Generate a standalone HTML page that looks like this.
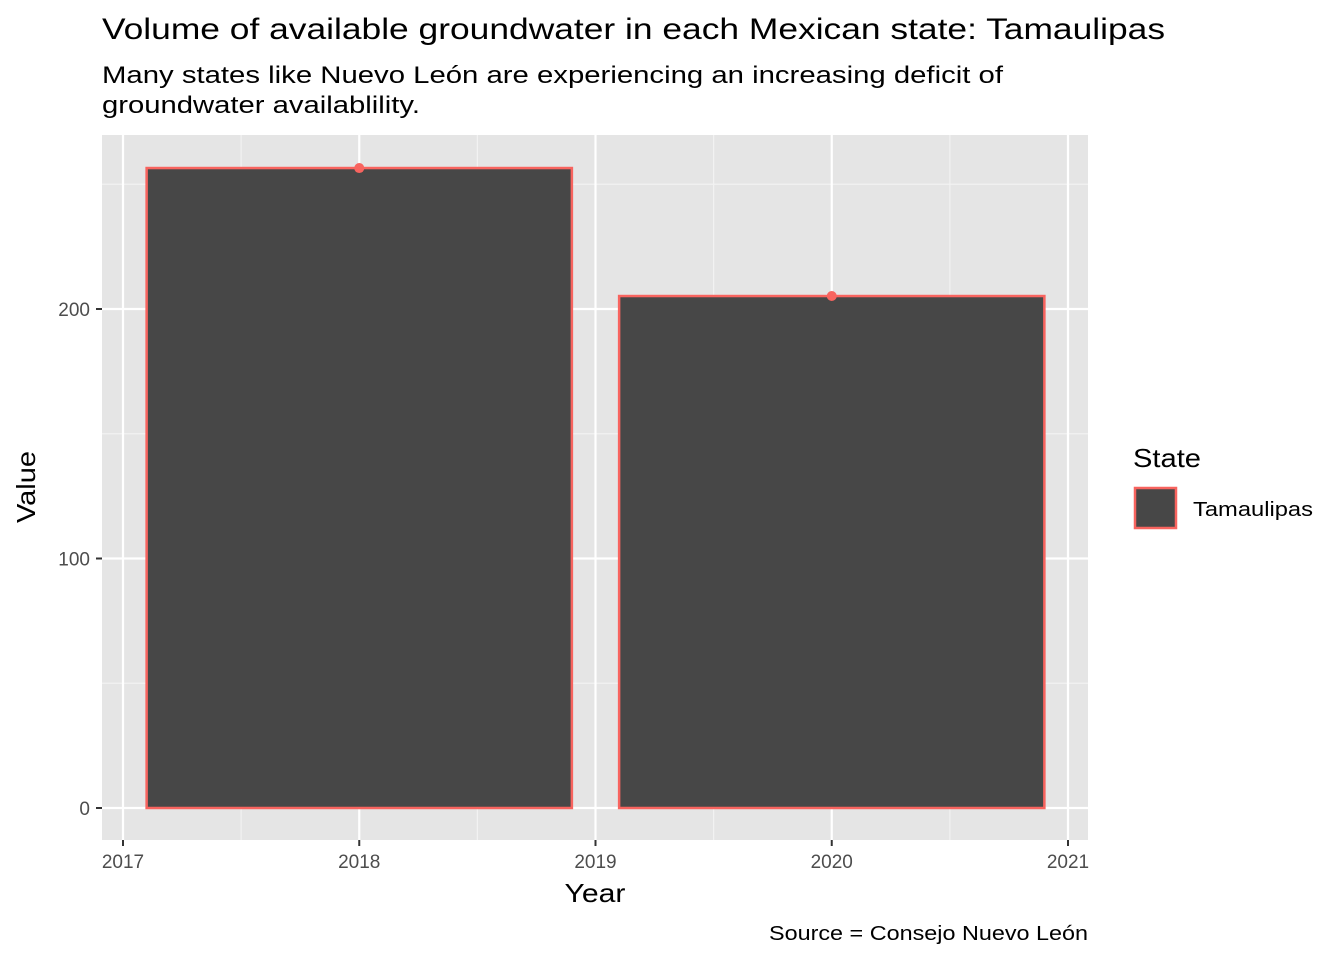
<!DOCTYPE html>
<html><head><meta charset="utf-8"><style>
body{margin:0;background:#fff;font-family:"Liberation Sans",Arial,sans-serif;}
svg text{font-family:"Liberation Sans",Arial,sans-serif;}
</style></head><body>
<svg id="chart" width="1344" height="960" xmlns="http://www.w3.org/2000/svg">
<text x="102" y="39" font-size="30" textLength="1063" lengthAdjust="spacingAndGlyphs" fill="#000">Volume of available groundwater in each Mexican state: Tamaulipas</text>
<text x="102" y="83" font-size="24" textLength="901" lengthAdjust="spacingAndGlyphs" fill="#000">Many states like Nuevo León are experiencing an increasing deficit of</text>
<text x="102" y="113" font-size="24" textLength="318" lengthAdjust="spacingAndGlyphs" fill="#000">groundwater availablility.</text>
<rect x="102" y="135" width="986" height="705" fill="#e5e5e5"/>
<g id="grid"></g>
<g id="bars"></g>
<g id="axes"></g>
<text x="595" y="902" font-size="26" textLength="61" lengthAdjust="spacingAndGlyphs" text-anchor="middle">Year</text>
<text transform="translate(35,487) rotate(-90)" font-size="26" textLength="72" lengthAdjust="spacingAndGlyphs" text-anchor="middle">Value</text>
<text x="1088" y="940" font-size="20" textLength="319" lengthAdjust="spacingAndGlyphs" text-anchor="end">Source = Consejo Nuevo León</text>
<text x="1133" y="467" font-size="26" textLength="68" lengthAdjust="spacingAndGlyphs">State</text>
<rect x="1135" y="488" width="41" height="40" fill="#474747" stroke="#f8645f" stroke-width="2.5"/>
<text x="1193" y="516" font-size="20" textLength="120" lengthAdjust="spacingAndGlyphs">Tamaulipas</text>
</svg>
<script>
const years=[2018,2020];
const values=[256.5,205.2];
const xTicks=[2017,2018,2019,2020,2021];
const yTicks=[0,100,200];
const NS="http://www.w3.org/2000/svg";
const xs=v=>123+(v-2017)*236.25;
const ys=v=>808-v*2.495;
function mk(tag,attrs,parent){const e=document.createElementNS(NS,tag);for(const k in attrs)e.setAttribute(k,attrs[k]);document.getElementById(parent).appendChild(e);return e;}
for(let i=0;i<xTicks.length-1;i++){const x=xs((xTicks[i]+xTicks[i+1])/2);const l=mk('line',{x1:x,x2:x,y1:135,y2:840,stroke:'#f2f2f2','stroke-width':1.2},'grid');

}
[50,150,250].forEach(v=>{const l=mk('line',{x1:102,x2:1088,y1:ys(v),y2:ys(v),stroke:'#f2f2f2','stroke-width':1.2},'grid');

});
xTicks.forEach(v=>{const l=mk('line',{x1:xs(v),x2:xs(v),y1:135,y2:840,stroke:'#fff','stroke-width':2.2},'grid');


const t=mk('line',{x1:xs(v),x2:xs(v),y1:840,y2:846,stroke:'#333','stroke-width':2},'axes');


const tx=mk('text',{x:xs(v),y:868,'font-size':19,fill:'#4d4d4d','text-anchor':'middle'},'axes');tx.textContent=v;

});
yTicks.forEach(v=>{const l=mk('line',{x1:102,x2:1088,y1:ys(v),y2:ys(v),stroke:'#fff','stroke-width':2.2},'grid');


const t=mk('line',{x1:96,x2:102,y1:ys(v),y2:ys(v),stroke:'#333','stroke-width':2},'axes');


const tx=mk('text',{x:90,y:ys(v)+7,'font-size':19,fill:'#4d4d4d','text-anchor':'end'},'axes');tx.textContent=v;

});
years.forEach((y,i)=>{const x0=xs(y-0.9),x1=xs(y+0.9);
const b=mk('rect',{x:x0,y:ys(values[i]),width:x1-x0,height:ys(0)-ys(values[i]),fill:'#474747',stroke:'#f8645f','stroke-width':2.5},'bars');


const p=mk('circle',{cx:xs(y),cy:ys(values[i]),r:5,fill:'#f8645f'},'bars');

});
</script>
</body></html>
